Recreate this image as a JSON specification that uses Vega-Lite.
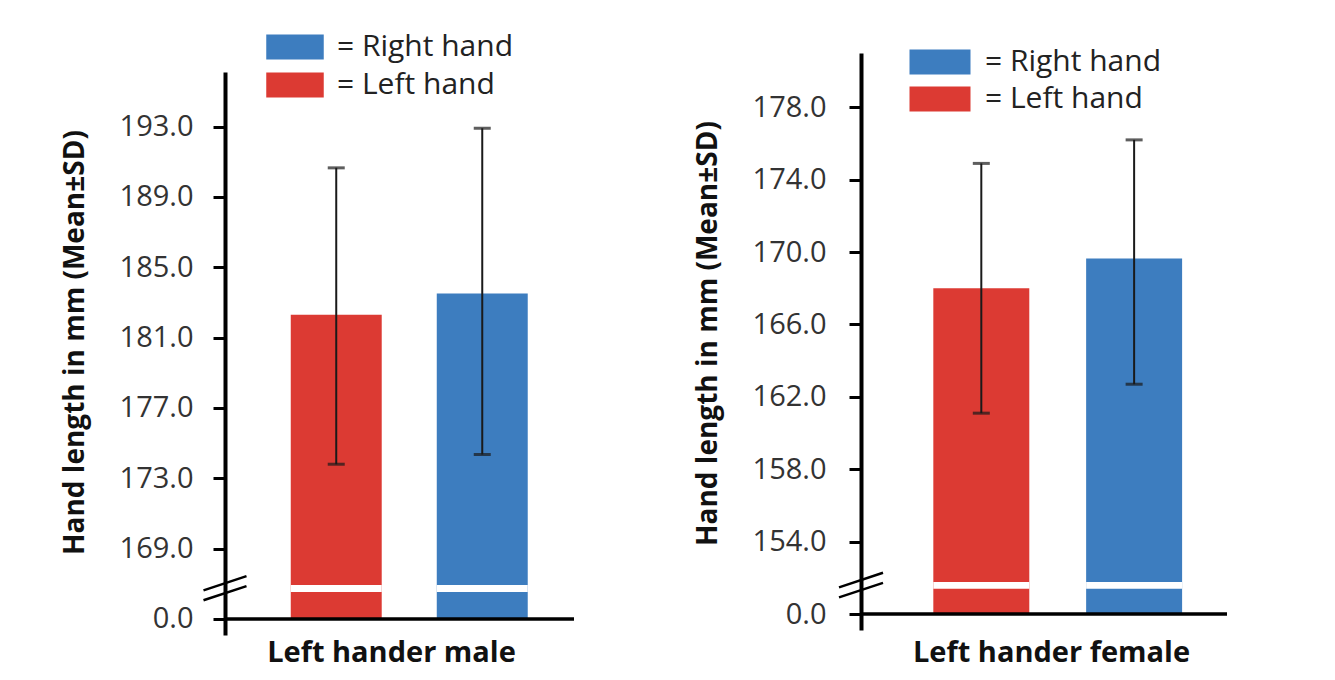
{
  "$schema": "https://vega.github.io/schema/vega-lite/v6.json",
  "background": "white",
  "padding": {"left": 61, "top": 32, "right": 5, "bottom": 5},
  "bounds": "flush",
  "spacing": 287,
  "datasets": {
    "hands": [
      {"panel": "male", "hand": "Left hand", "mean": 182.3, "lo": 173.8, "hi": 190.65},
      {"panel": "male", "hand": "Right hand", "mean": 183.5, "lo": 174.35, "hi": 192.9},
      {"panel": "female", "hand": "Left hand", "mean": 168.0, "lo": 161.1, "hi": 174.9},
      {"panel": "female", "hand": "Right hand", "mean": 169.65, "lo": 162.7, "hi": 176.2}
    ]
  },
  "config": {
    "view": {"stroke": null},
    "font": "Open Sans",
    "axis": {
      "grid": false,
      "labelFont": "Open Sans",
      "labelFontSize": 29,
      "labelColor": "#333",
      "titleFont": "Open Sans",
      "titleFontWeight": "bold",
      "titleFontSize": 28,
      "titleColor": "#111",
      "domainColor": "black",
      "domainWidth": 4,
      "tickColor": "black",
      "tickWidth": 3,
      "tickSize": 12,
      "labelPadding": 20
    },
    "legend": {
      "labelFont": "Open Sans",
      "labelFontSize": 30,
      "labelColor": "#222",
      "labelLimit": 500,
      "padding": 0
    }
  },
  "resolve": {
    "scale": {"x": "independent", "y": "independent", "color": "shared"},
    "legend": {"color": "independent"}
  },
  "hconcat": [
    {
      "width": 349,
      "height": 582,
      "layer": [
        {
          "data": {"name": "hands"},
          "transform": [{"filter": "datum.panel === 'male'"}],
          "encoding": {
            "x": {
              "field": "hand", "type": "nominal", "sort": ["Left hand", "Right hand"],
              "scale": {"paddingInner": 0.377, "paddingOuter": 0.3836, "align": 0.587},
              "axis": {"title": "Left hander male", "labels": false, "ticks": false, "domain": false, "titlePadding": 3, "titleX": 166, "titleFontSize": 29}
            }
          },
          "layer": [
            {
              "mark": {"type": "bar"},
              "encoding": {
                "y": {
                  "field": "mean", "type": "quantitative", "title": "Hand length in mm (Mean±SD)",
                  "scale": {"domain": [164.09, 196.1], "range": [582, 19], "nice": false, "zero": false},
                  "axis": {
                    "values": [165, 169, 173, 177, 181, 185, 189, 193],
                    "labelExpr": "datum.value < 166 ? '0.0' : format(datum.value, '.1f')",
                    "titlePadding": 30,
                    "titleY": 289
                  }
                },
                "y2": {"datum": 165},
                "color": {
                  "field": "hand", "type": "nominal",
                  "scale": {"domain": ["Right hand", "Left hand"], "range": ["#3D7DBF", "#DC3A33"]},
                  "legend": {
                    "orient": "none", "legendX": 55, "legendY": -21, "title": null,
                    "symbolType": "M-2.3,-1H2.3V1H-2.3Z", "symbolSize": 625, "symbolStrokeWidth": 0,
                    "symbolOpacity": 1, "labelOffset": 27, "rowPadding": 8,
                    "labelExpr": "'= ' + datum.label"
                  }
                }
              }
            },
            {
              "mark": {"type": "bar", "color": "white"},
              "encoding": {
                "y": {"datum": 166.93, "title": "Hand length in mm (Mean±SD)"},
                "y2": {"datum": 166.54}
              }
            },
            {
              "mark": {"type": "rule", "color": "#1a1a1a", "strokeWidth": 2},
              "encoding": {
                "y": {"field": "lo", "type": "quantitative", "title": "Hand length in mm (Mean±SD)"},
                "y2": {"field": "hi"}
              }
            },
            {
              "mark": {"type": "tick", "color": "#1a1a1a", "thickness": 3, "size": 17},
              "encoding": {"y": {"field": "lo", "type": "quantitative", "title": "Hand length in mm (Mean±SD)"}}
            },
            {
              "mark": {"type": "tick", "color": "#1a1a1a", "thickness": 3, "size": 17},
              "encoding": {"y": {"field": "hi", "type": "quantitative", "title": "Hand length in mm (Mean±SD)"}}
            }
          ]
        },
        {
          "data": {"values": [{"axis": "x"}]},
          "mark": {"type": "rule", "color": "black", "strokeWidth": 3.5},
          "encoding": {"y": {"datum": 165, "title": "Hand length in mm (Mean±SD)"}}
        },
        {
          "data": {"values": [{"axis": "break"}]},
          "mark": {"type": "point", "shape": "M-1,0.1L1,-0.56M-1,0.56L1,-0.1", "size": 1849, "filled": false, "stroke": "black", "strokeWidth": 2.5, "opacity": 1},
          "encoding": {"x": {"value": 0}, "y": {"datum": 166.75, "title": "Hand length in mm (Mean±SD)"}}
        }
      ]
    },
    {
      "width": 366,
      "height": 577,
      "layer": [
        {
          "data": {"name": "hands"},
          "transform": [{"filter": "datum.panel === 'female'"}],
          "encoding": {
            "x": {
              "field": "hand", "type": "nominal", "sort": ["Left hand", "Right hand"],
              "scale": {"paddingInner": 0.372, "paddingOuter": 0.3835, "align": 0.617},
              "axis": {"title": "Left hander female", "labels": false, "ticks": false, "domain": false, "titlePadding": 8, "titleX": 190, "titleFontSize": 29}
            }
          },
          "layer": [
            {
              "mark": {"type": "bar"},
              "encoding": {
                "y": {
                  "field": "mean", "type": "quantitative", "title": "Hand length in mm (Mean±SD)",
                  "scale": {"domain": [149.12, 181.0], "nice": false, "zero": false},
                  "axis": {
                    "values": [150, 154, 158, 162, 166, 170, 174, 178],
                    "labelExpr": "datum.value < 151 ? '0.0' : format(datum.value, '.1f')",
                    "titlePadding": 30,
                    "labelPadding": 23,
                    "titleY": 280
                  }
                },
                "y2": {"datum": 150},
                "color": {
                  "field": "hand", "type": "nominal",
                  "scale": {"domain": ["Right hand", "Left hand"], "range": ["#3D7DBF", "#DC3A33"]},
                  "legend": {
                    "orient": "none", "legendX": 64, "legendY": -6, "title": null,
                    "symbolType": "M-2.44,-1H2.44V1H-2.44Z", "symbolSize": 625, "symbolStrokeWidth": 0,
                    "symbolOpacity": 1, "labelOffset": 30, "rowPadding": 7,
                    "labelExpr": "'= ' + datum.label"
                  }
                }
              }
            },
            {
              "mark": {"type": "bar", "color": "white"},
              "encoding": {
                "y": {"datum": 151.77, "title": "Hand length in mm (Mean±SD)"},
                "y2": {"datum": 151.4}
              }
            },
            {
              "mark": {"type": "rule", "color": "#1a1a1a", "strokeWidth": 2},
              "encoding": {
                "y": {"field": "lo", "type": "quantitative", "title": "Hand length in mm (Mean±SD)"},
                "y2": {"field": "hi"}
              }
            },
            {
              "mark": {"type": "tick", "color": "#1a1a1a", "thickness": 3, "size": 17},
              "encoding": {"y": {"field": "lo", "type": "quantitative", "title": "Hand length in mm (Mean±SD)"}}
            },
            {
              "mark": {"type": "tick", "color": "#1a1a1a", "thickness": 3, "size": 17},
              "encoding": {"y": {"field": "hi", "type": "quantitative", "title": "Hand length in mm (Mean±SD)"}}
            }
          ]
        },
        {
          "data": {"values": [{"axis": "x"}]},
          "mark": {"type": "rule", "color": "black", "strokeWidth": 3.5},
          "encoding": {"y": {"datum": 150, "title": "Hand length in mm (Mean±SD)"}}
        },
        {
          "data": {"values": [{"axis": "break"}]},
          "mark": {"type": "point", "shape": "M-1,0.1L1,-0.56M-1,0.56L1,-0.1", "size": 1936, "filled": false, "stroke": "black", "strokeWidth": 2.5, "opacity": 1},
          "encoding": {"x": {"value": 0}, "y": {"datum": 151.6, "title": "Hand length in mm (Mean±SD)"}}
        }
      ]
    }
  ]
}
